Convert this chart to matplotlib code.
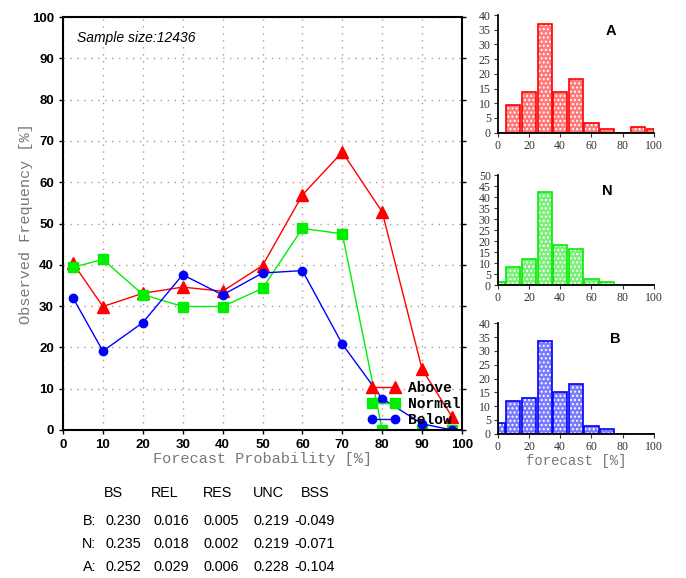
import matplotlib
matplotlib.use("Agg")
import matplotlib.pyplot as plt
import numpy as np

# reliability curves
prob = [2.5, 10, 20, 30, 40, 50, 60, 70, 80, 90, 97.5]
above = [40.4, 29.9, 33.1, 34.6, 33.6, 39.8, 56.9, 67.3, 52.8, 14.7, 3.2]
normal = [39.4, 41.3, 32.8, 29.9, 29.9, 34.3, 48.8, 47.5, 0, 0, 0]
below = [32.0, 19.1, 26.0, 37.6, 32.7, 38.0, 38.6, 20.8, 7.6, 1.5, 0]

# forecast frequency distributions (%)
hist_a = [0, 9.5, 14, 37, 14, 18.2, 3.4, 1.4, 0, 1.8, 1.4]
hist_n = [1.4, 8.4, 11.8, 42.2, 18.3, 16.5, 2.9, 1.4, 0, 0, 0]
hist_b = [3.8, 12, 13, 33.7, 15.2, 18, 2.8, 1.8, 0, 0, 0]

stat_cols = ["BS", "REL", "RES", "UNC", "BSS"]
stat_rows = ["B:", "N:", "A:"]
stats = [["0.230", "0.016", "0.005", "0.219", "-0.049"],
         ["0.235", "0.018", "0.002", "0.219", "-0.071"],
         ["0.252", "0.029", "0.006", "0.228", "-0.104"]]

W, H = 686, 578
fig = plt.figure(figsize=(W / 100, H / 100), dpi=100)

def box(l, t, r, b):
    return [l / W, 1 - b / H, (r - l) / W, (b - t) / H]

mono = "Liberation Mono"
sans = "Liberation Sans"

ax = fig.add_axes(box(63, 17, 462, 430))
ax.plot(prob, above, color="red", marker="^", ms=8, lw=1, label="Above")
ax.plot(prob, normal, color="#00ee00", marker="s", ms=7, lw=1, label="Normal")
ax.plot(prob, below, color="blue", marker="o", ms=6, lw=1, label="Below")
ax.set_xlim(0, 100)
ax.set_ylim(0, 100)
ax.set_xticks(range(0, 101, 10))
ax.set_yticks(range(0, 101, 10))
ax.grid(True, color="#c09090", linestyle=(0, (1, 4)), lw=1)
for lab in ax.get_xticklabels() + ax.get_yticklabels():
    lab.set_fontfamily(sans)
    lab.set_fontweight("bold")
    lab.set_fontsize(9.5)
ax.tick_params(length=3, width=1, right=True, direction="out")
for s in ax.spines.values():
    s.set_linewidth(1.5)
ax.set_xlabel("Forecast Probability [%]", family=mono, color="#777777",
              fontsize=11, labelpad=1)
ax.set_ylabel("Observed Frequency [%]", family=mono, color="#777777",
              fontsize=11, labelpad=-1)
ax.text(0.035, 0.965, "Sample size:12436", transform=ax.transAxes,
        style="italic", family=sans, fontsize=10, va="top")
leg = ax.legend(loc="lower right", bbox_to_anchor=(1.03, -0.025), frameon=False,
                numpoints=2, handlelength=2.2, handletextpad=0.6,
                labelspacing=0.15, prop={"family": mono, "size": 10.5, "weight": "bold"})

# histograms
centers = prob
widths = [4.5, 9, 9, 9, 9, 9, 9, 9, 9, 9, 4.5]
hists = [(hist_a, "red", "#ff7a7a", "A", (15, 132.7), 40, 0.69),
         (hist_n, "#00ee00", "#7af07a", "N", (175, 285.3), 50, 0.67),
         (hist_b, "blue", "#7a7aff", "B", (323.3, 433.7), 40, 0.72)]
for vals, edge, face, letter, (top, bot), ymax, lx in hists:
    h = fig.add_axes(box(497.7, top, 654, bot))
    h.bar(centers, vals, width=widths, color=face, edgecolor="white",
          hatch="....", lw=0)
    h.bar(centers, vals, width=widths, facecolor="none", edgecolor=edge, lw=1.2)
    h.set_xlim(0, 100)
    h.set_ylim(0, ymax)
    h.set_xticks(range(0, 101, 20))
    h.set_yticks(range(0, ymax + 1, 5))
    h.spines["top"].set_visible(False)
    h.spines["right"].set_visible(False)
    h.spines["left"].set_linewidth(1.3)
    h.spines["bottom"].set_linewidth(1.3)
    h.tick_params(length=3, labelsize=8.5, colors="#333333", pad=2)
    for lab in h.get_xticklabels() + h.get_yticklabels():
        lab.set_fontfamily("Liberation Serif")
    h.text(lx, 0.92, letter, transform=h.transAxes, fontweight="bold",
           family=sans, fontsize=10.5, va="top")
    if letter == "B":
        h.set_xlabel("forecast [%]", family=mono, color="#777777",
                     fontsize=10, labelpad=1)

# stats table
head_x = [113, 165, 218, 268, 315]
val_x = [123, 171, 221, 271, 315]
for x, c in zip(head_x, stat_cols):
    fig.text(x / W, 1 - 493 / H, c, ha="center", va="center", family=sans, fontsize=10.4)
row_y = [521, 544, 567]
for y, r, vals in zip(row_y, stat_rows, stats):
    fig.text(96 / W, 1 - y / H, r, ha="right", va="center", family=sans, fontsize=10.4)
    for x, v in zip(val_x, vals):
        fig.text(x / W, 1 - y / H, v, ha="center", va="center",
                 family=sans, fontsize=10.4)

fig.savefig("out.png", dpi=100)
